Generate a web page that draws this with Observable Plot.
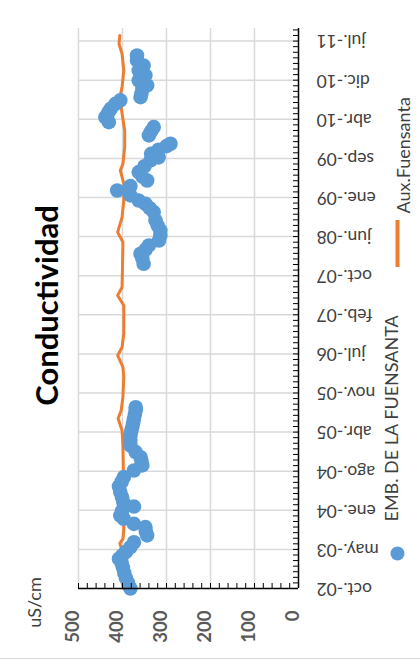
<!DOCTYPE html>
<html><head><meta charset="utf-8">
<script src="https://cdn.jsdelivr.net/npm/d3@7"></script>
<script src="https://cdn.jsdelivr.net/npm/@observablehq/plot@0.6"></script>
<style>
body{margin:0;background:#fff;}
#chart{width:420px;height:665px;position:relative;overflow:hidden;}
#chart svg{display:block;}
#border{width:420px;height:1px;background:#d9d9d9;}
</style></head><body><div id="chart"></div>
<script>
// EMB. DE LA FUENSANTA (markers)
const embDates = ["2002-10-01","2002-11-01","2002-12-01","2003-01-01","2003-02-01","2003-03-01","2003-03-25","2003-04-15","2003-05-05","2003-06-01","2003-06-30","2003-08-09","2003-09-01","2003-09-27","2003-10-16","2003-11-15","2003-12-04","2004-01-01","2004-01-26","2004-02-20","2004-03-21","2004-04-20","2004-05-23","2004-06-20","2004-07-17","2004-08-25","2004-09-24","2004-10-20","2004-11-11","2004-12-11","2005-01-19","2005-02-20","2005-03-19","2005-04-15","2005-05-07","2005-06-01","2005-06-25","2005-07-20","2005-08-13","2005-09-01",
"2007-12-24","2008-01-25","2008-02-21","2008-03-15","2008-04-10","2008-05-09","2008-06-08","2008-07-07","2008-08-05","2008-09-04","2008-10-23","2008-11-15","2008-12-11","2008-12-30","2009-01-29","2009-02-27","2009-03-25","2009-04-27","2009-05-20","2009-06-15","2009-07-20","2009-08-23","2009-09-10","2009-10-01","2009-10-25","2009-11-15","2009-11-29","2010-01-17","2010-02-10","2010-03-07","2010-04-05","2010-05-04","2010-06-01","2010-06-22","2010-07-22","2010-08-11","2010-08-30","2010-09-20","2010-10-18","2010-11-07","2010-12-06","2011-01-05","2011-02-03","2011-03-04","2011-04-03","2011-05-02"];
const embValues = [382,387,392,396,399,402,408,400,392,382,374,344,347,348,374,397,405,401,374,398,401,405,408,402,397,374,355,357,359,370,382,382,382,380,378,376,374,372,370,370,
352,355,359,348,340,317,314,314,320,325,329,338,348,363,382,412,382,344,355,363,350,336,318,335,318,300,291,340,335,329,431,439,432,427,416,405,359,357,355,344,363,348,363,352,367,367];

// Aux.Fuensanta (line)
const auxDates = ["2002-10-01","2002-12-16","2003-03-15","2003-05-13","2003-06-23","2003-07-20","2003-09-07","2004-03-02","2004-08-25","2005-01-15","2005-04-17","2005-06-27","2005-08-13","2005-11-01","2006-02-25","2006-04-25","2006-07-03","2006-08-20","2006-11-09","2007-04-23","2007-06-21","2007-08-08","2007-12-01","2008-04-29","2008-06-27","2008-09-23","2008-12-30","2009-04-08","2009-06-25","2009-08-03","2009-11-09","2010-02-15","2010-05-26","2010-08-30","2010-10-28","2011-02-03","2011-05-12","2011-07-10","2011-08-28"];
const auxValues = [398,400,401,401,406,399,397,397,398,399,401,410,403,399,397,399,411,401,397,397,411,401,400,399,411,401,397,397,405,399,395,395,401,406,401,397,401,408,406];

// axes
const tickDates = ["2002-10-01","2003-05-19","2004-01-04","2004-08-21","2005-04-08","2005-11-24","2006-07-12","2007-02-27","2007-10-15","2008-06-01","2009-01-17","2009-09-04","2010-04-22","2010-12-08","2011-07-26"];
const tickLabels = ["oct.-02","may.-03","ene.-04","ago.-04","abr.-05","nov.-05","jul.-06","feb.-07","oct.-07","jun.-08","ene.-09","sep.-09","abr.-10","dic.-10","jul.-11"];
const dateDomain = ["2002-10-01","2011-10-08"];
const valueTicks = [0,100,200,300,400,500];
const valueMinorStep = 20;

const titleText = "Conductividad";
const unitText = "uS/cm";
const seriesNames = ["EMB. DE LA FUENSANTA","Aux.Fuensanta"];
const seriesColors = ["#5B9BD5","#ED7D31"];

const parse = d3.utcParse("%Y-%m-%d");
const emb = embDates.map((d,i)=>({date: parse(d), value: embValues[i]}));
const aux = auxDates.map((d,i)=>({date: parse(d), value: auxValues[i]}));
const majors = tickDates.map(parse);
const domain = dateDomain.map(parse);
const minors = [];
const step = (majors[1]-majors[0])/7;
for (let t = +majors[0]; t <= +domain[1]; t += step) minors.push(new Date(t));

const W = 420, H = 658, mL = 78, mR = 122, mT = 28, mB = 70;
const fw = W - mL - mR, fh = H - mT - mB;
const font = "Lato, 'Open Sans', sans-serif";
const txt = "#404040";

const chart = Plot.plot({
  width: W, height: H,
  marginLeft: mL, marginRight: mR, marginTop: mT, marginBottom: mB,
  style: {fontFamily: font, background: "white", overflow: "visible"},
  x: {domain: [0, 500], reverse: true, axis: null},
  y: {type: "utc", domain, axis: null},
  marks: [
    Plot.ruleX(valueTicks.filter(v => v > 0), {x: d => d, stroke: "#d9d9d9", strokeWidth: 1.5}),
    Plot.ruleY(majors.slice(1), {y: d => d, stroke: "#d9d9d9", strokeWidth: 1.5}),
    Plot.line(aux, {x: "value", y: "date", stroke: seriesColors[1], strokeWidth: 3}),
    Plot.dot(emb, {x: "value", y: "date", r: 7.3, fill: seriesColors[0], stroke: null}),
    Plot.ruleX([0], {x: d => d, stroke: "black", strokeWidth: 1.5}),
    Plot.ruleY([majors[0]], {y: d => d, stroke: "black", strokeWidth: 1.5}),
    Plot.tickY(minors, {y: d => d, insetLeft: fw - 5, stroke: "black", strokeWidth: 1}),
    Plot.tickX(d3.range(0, 501, valueMinorStep), {x: d => d, insetTop: fh - 5, stroke: "black", strokeWidth: 1}),
    Plot.text(majors, {y: d => d, text: (d, i) => tickLabels[i], frameAnchor: "right", dx: 18, rotate: 180, textAnchor: "end", fontSize: 17.5, fill: txt}),
    Plot.text(valueTicks, {x: d => d, text: d => String(d), frameAnchor: "bottom", dy: 22, rotate: -90, textAnchor: "end", fontSize: 18.5, fontWeight: "bold", fill: "#595959"}),
    Plot.text([titleText], {text: d => d, frameAnchor: "left", dx: -30, dy: -3, rotate: -90, textAnchor: "middle", fontSize: 31, fontWeight: "bold", fill: "black"}),
    Plot.text([unitText], {text: d => d, frameAnchor: "bottom-left", dx: -38, dy: 14, rotate: -90, textAnchor: "middle", fontSize: 18, fill: txt}),
    Plot.dot([0], {frameAnchor: "bottom-right", dx: 99, dy: -35, r: 7, fill: seriesColors[0], stroke: null}),
    Plot.text([seriesNames[0]], {text: d => d, frameAnchor: "bottom-right", dx: 99, dy: -67, rotate: -90, textAnchor: "start", fontSize: 18, fill: txt}),
    Plot.ruleX([0], {x: null, dx: (W - mR) - (mL + fw / 2) + 99, insetTop: 192, insetBottom: 321, stroke: seriesColors[1], strokeWidth: 4}),
    Plot.text([seriesNames[1]], {text: d => d, frameAnchor: "top-right", dx: 99, dy: 185, rotate: -90, textAnchor: "start", fontSize: 18, fill: txt})
  ]
});
const host = document.getElementById("chart");
host.appendChild(chart);
const b = document.createElement("div"); b.id = "border"; host.appendChild(b);
</script></body></html>
